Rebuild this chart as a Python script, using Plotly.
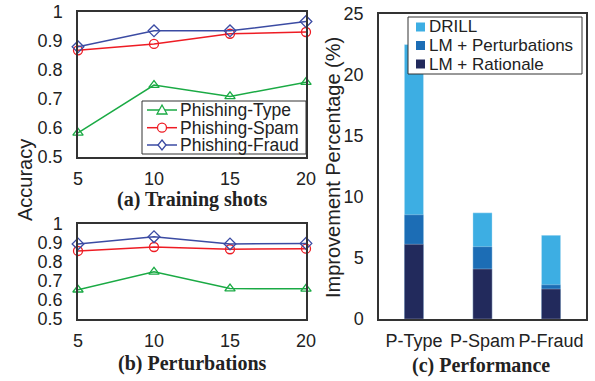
import plotly.graph_objects as go

W, H = 595, 381

shots = [5, 10, 15, 20]
train_type = [0.583, 0.748, 0.709, 0.758]
train_spam = [0.868, 0.890, 0.925, 0.931]
train_fraud = [0.880, 0.935, 0.935, 0.967]

pert_type = [0.654, 0.748, 0.660, 0.659]
pert_spam = [0.858, 0.879, 0.867, 0.870]
pert_fraud = [0.895, 0.933, 0.895, 0.898]

tasks = ["P-Type", "P-Spam", "P-Fraud"]
drill = [22.5, 8.7, 6.86]
lm_perturb = [8.55, 5.93, 2.81]
lm_rationale = [6.12, 4.1, 2.46]

series_names = ["Phishing-Type", "Phishing-Spam", "Phishing-Fraud"]
line_colors = ["#1aaa44", "#ee1c24", "#3b4ba3"]
symbols = ["triangle-up-open", "circle-open", "diamond-open"]
bar_colors = ["#3daee3", "#1c6db5", "#222a5c"]
bar_names = ["DRILL", "LM + Perturbations", "LM + Rationale"]

FONT = "Liberation Sans, Arial, sans-serif"
SERIF = "Liberation Serif, Times New Roman, serif"
FRAME = "#333333"
TXT = "#222222"


def px_x(p):
    return p / W


def px_y(p):
    return 1 - p / H


fig = go.Figure()

top = [train_type, train_spam, train_fraud]
bot = [pert_type, pert_spam, pert_fraud]
for i in range(3):
    fig.add_trace(go.Scatter(x=shots, y=top[i], name=series_names[i], mode="lines+markers",
                             line=dict(color=line_colors[i], width=1.5),
                             marker=dict(symbol=symbols[i], size=9, color=line_colors[i],
                                         line=dict(width=1.3, color=line_colors[i])),
                             xaxis="x", yaxis="y", cliponaxis=False, showlegend=False))
for i in range(3):
    fig.add_trace(go.Scatter(x=shots, y=bot[i], name=series_names[i], mode="lines+markers",
                             line=dict(color=line_colors[i], width=1.5),
                             marker=dict(symbol=symbols[i], size=9, color=line_colors[i],
                                         line=dict(width=1.3, color=line_colors[i])),
                             xaxis="x2", yaxis="y2", cliponaxis=False, showlegend=False))

for vals, name, col in zip([drill, lm_perturb, lm_rationale], bar_names, bar_colors):
    fig.add_trace(go.Bar(x=tasks, y=vals, name=name,
                         marker=dict(color=col, line=dict(width=0.6, color="rgba(255,255,255,0.5)")),
                         width=0.28, xaxis="x3", yaxis="y3", showlegend=False))

ax_common = dict(showgrid=False, zeroline=False, showline=True, linecolor=FRAME, linewidth=1.5,
                 mirror=True, ticks="", automargin=False,
                 tickfont=dict(family=FONT, size=18, color=TXT))
xa = dict(ticklabelstandoff=5, **ax_common)
ya = dict(ticklabelstandoff=10, **ax_common)

lx0, lx1 = px_x(78), px_x(306)
fig.update_layout(
    width=W, height=H, margin=dict(l=0, r=0, t=0, b=0, autoexpand=False),
    paper_bgcolor="white", plot_bgcolor="white",
    barmode="overlay", showlegend=False,
    font=dict(family=FONT, color=TXT),
    xaxis=dict(domain=[lx0, lx1], range=[5, 20], tickvals=shots, anchor="y", **xa),
    yaxis=dict(domain=[px_y(157), px_y(12)], range=[0.5, 1], dtick=0.1, tickformat="~g", anchor="x", **ya),
    xaxis2=dict(domain=[lx0, lx1], range=[5, 20], tickvals=shots, anchor="y2", **xa),
    yaxis2=dict(domain=[px_y(319), px_y(224)], range=[0.5, 1], dtick=0.1, tickformat="~g", anchor="x2", **ya),
    xaxis3=dict(domain=[px_x(379), px_x(586)], range=[-0.51, 2.51], anchor="y3", **xa),
    yaxis3=dict(domain=[px_y(319), px_y(14)], range=[0, 25], dtick=5, anchor="x3", **ya),
)

ann = [
    dict(text="<b>(a) Training shots</b>", x=px_x(192), y=px_y(199), font=dict(family=SERIF, size=20, color=TXT)),
    dict(text="<b>(b) Perturbations</b>", x=px_x(192), y=px_y(363), font=dict(family=SERIF, size=20, color=TXT)),
    dict(text="<b>(c) Performance</b>", x=px_x(481), y=px_y(365), font=dict(family=SERIF, size=20, color=TXT)),
    dict(text="Accuracy", x=px_x(25), y=px_y(180), textangle=-90, font=dict(family=FONT, size=20, color=TXT)),
    dict(text="Improvement Percentage (%)", x=px_x(333), y=px_y(168), textangle=-90,
         font=dict(family=FONT, size=20, color=TXT)),
]
for a in ann:
    fig.add_annotation(xref="paper", yref="paper", showarrow=False, xanchor="center", yanchor="middle", **a)

# ---- legend for line panels (drawn as a boxed key) ----
fig.add_shape(type="rect", xref="paper", yref="paper", x0=px_x(142), x1=px_x(306), y0=px_y(154), y1=px_y(101),
              fillcolor="white", line=dict(color=FRAME, width=1), layer="above")
rows = [110, 127.7, 145]
for i, ry in enumerate(rows):
    fig.add_shape(type="line", xref="paper", yref="paper", x0=px_x(147), x1=px_x(177), y0=px_y(ry), y1=px_y(ry),
                  line=dict(color=line_colors[i], width=1.5), layer="above")
    cx, cy = 162, ry
    if i == 0:
        path = f"M {px_x(cx)} {px_y(cy-5)} L {px_x(cx+5)} {px_y(cy+4)} L {px_x(cx-5)} {px_y(cy+4)} Z"
        fig.add_shape(type="path", xref="paper", yref="paper", path=path, fillcolor="white",
                      line=dict(color=line_colors[i], width=1.3), layer="above")
    elif i == 1:
        fig.add_shape(type="circle", xref="paper", yref="paper", x0=px_x(cx-4.5), x1=px_x(cx+4.5),
                      y0=px_y(cy+4.5), y1=px_y(cy-4.5), fillcolor="white",
                      line=dict(color=line_colors[i], width=1.3), layer="above")
    else:
        path = (f"M {px_x(cx)} {px_y(cy-5)} L {px_x(cx+4)} {px_y(cy)} L {px_x(cx)} {px_y(cy+5)} "
                f"L {px_x(cx-4)} {px_y(cy)} Z")
        fig.add_shape(type="path", xref="paper", yref="paper", path=path, fillcolor="white",
                      line=dict(color=line_colors[i], width=1.3), layer="above")
    fig.add_annotation(xref="paper", yref="paper", showarrow=False, xanchor="left", yanchor="middle",
                       x=px_x(178), y=px_y(ry), text=series_names[i],
                       font=dict(family=FONT, size=17.5, color=TXT))

# ---- legend for bar panel ----
fig.add_shape(type="rect", xref="paper", yref="paper", x0=px_x(408), x1=px_x(582), y0=px_y(74), y1=px_y(17),
              fillcolor="white", line=dict(color=FRAME, width=1), layer="above")
brows = [27, 45.5, 64]
for i, ry in enumerate(brows):
    fig.add_shape(type="rect", xref="paper", yref="paper", x0=px_x(416), x1=px_x(425),
                  y0=px_y(ry + 4.5), y1=px_y(ry - 4.5), fillcolor=bar_colors[i], line=dict(width=0),
                  layer="above")
    fig.add_annotation(xref="paper", yref="paper", showarrow=False, xanchor="left", yanchor="middle",
                       x=px_x(427), y=px_y(ry), text=bar_names[i],
                       font=dict(family=FONT, size=17, color=TXT))

fig.write_html("out.html", config={"displayModeBar": False},
               post_script="document.body.style.margin='0';")
